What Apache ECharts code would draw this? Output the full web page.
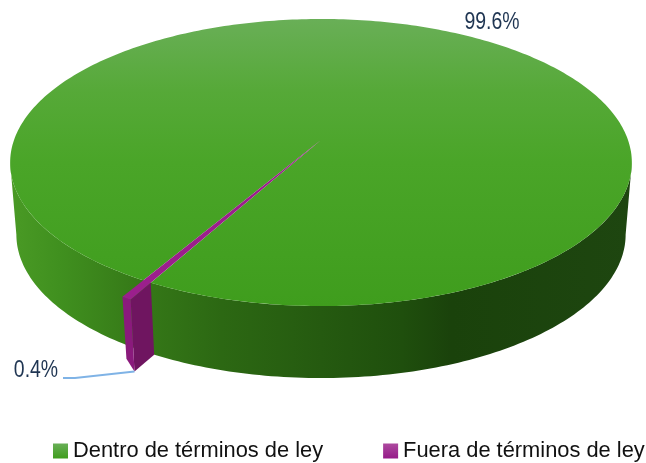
<!DOCTYPE html>
<html>
<head>
<meta charset="utf-8">
<style>
html,body{margin:0;padding:0;background:#fff}
#main{width:646px;height:463px}
</style>
<script src="https://cdn.jsdelivr.net/npm/echarts@6/dist/echarts.min.js"></script>
</head>
<body>
<div id="main"></div>
<script>
const categorias = ['Dentro de términos de ley', 'Fuera de términos de ley'];
const valores = [99.6, 0.4];
const etiquetas = ['99.6%', '0.4%'];

// pie geometry, a disc seen in perspective
const cx = 321, cy = 140, radioX = 307, radioY = 140, persp = 0.157;
const fondo = 72, escalaFondo = 0.98;
const anguloInicio = 120;     // first slice, clockwise from 3 o'clock
const salida = [1, 1.1];      // radius factor per slice

const total = valores.reduce((a, b) => a + b, 0);
const rad = g => g * Math.PI / 180;

function punto(g, r, abajo) {
    const u = r * Math.cos(rad(g)), v = r * Math.sin(rad(g));
    const d = 1 - persp * v;
    let x = cx + radioX * u / d, y = cy + radioY * v / d;
    if (abajo) {
        x = cx + (x - cx) * escalaFondo;
        y += fondo;
    }
    return [x, y];
}

function arco(g0, g1, r, abajo) {
    const pts = [], n = Math.max(2, Math.ceil(Math.abs(g1 - g0)));
    for (let i = 0; i <= n; i++) pts.push(punto(g0 + (g1 - g0) * i / n, r, abajo));
    return pts;
}

function degradado(x, y, x2, y2, stops) {
    return {
        type: 'linear', global: true, x: x, y: y, x2: x2, y2: y2,
        colorStops: stops.map(s => ({offset: s[0], color: s[1]}))
    };
}

const caraVerde = degradado(0, 19, 0, 307, [[0, '#69af57'], [0.25, '#56a938'], [0.5, '#4aa528'], [1, '#3f9d1d']]);
const paredVerde = degradado(10, 0, 632, 0, [
    [0, '#4a9a25'], [0.08, '#40901f'], [0.2, '#367a18'], [0.34, '#2c6813'],
    [0.5, '#255a10'], [0.63, '#1f4f0d'], [0.71, '#1a420b'], [1, '#1e4610']
]);

function poligono(pts, fill) {
    return {type: 'polygon', shape: {points: pts}, style: {fill: fill}, silent: true};
}

function texto(txt, x, y) {
    return {
        type: 'text', silent: true, x: x, y: y, scaleX: 0.81,
        style: {text: txt, x: 0, y: 0, fill: '#1f3552', font: '24px "Liberation Sans", sans-serif', align: 'center', verticalAlign: 'middle'}
    };
}

function dibujarDentro(g0, g1) {
    // outer wall only shows on the front half, between the two side extremes
    const pared = arco(9, 171, 1, false).concat(arco(171, 9, 1, true));
    const cara = [punto(0, 0, false)].concat(arco(g0, g1, 1, false));
    return [
        poligono(pared, paredVerde),
        poligono(cara, caraVerde),
        texto(etiquetas[0], 492, 22)
    ];
}

function dibujarFuera(g0, g1) {
    const r = salida[1];
    const borde = punto(g0, 1, false), bordeAbajo = punto(g0, 1, true);
    const a = punto(g0, r, false), aAbajo = punto(g0, r, true);
    const b = punto(g1, r, false), bAbajo = punto(g1, r, true);
    bAbajo[1] -= 10;
    return [
        poligono([borde, a, aAbajo, bordeAbajo], '#6f1560'),
        poligono([a, b, bAbajo, aAbajo], '#8a1a7c'),
        poligono([punto(0, 0, false)].concat(arco(g1, g0, r, false)), '#9b1f8c'),
        {type: 'polyline', silent: true, shape: {points: [[63, 378], [75, 378], aAbajo]}, style: {stroke: '#7fb3e6', lineWidth: 2, fill: null}},
        texto(etiquetas[1], 36, 370)
    ];
}

const dibujos = [dibujarDentro, dibujarFuera];
const coloresLeyenda = [['#69af57', '#3f9d1d'], ['#ad4a9f', '#951a88']];

let acumulado = 0;
const series = categorias.map((nombre, i) => {
    const g0 = anguloInicio + acumulado / total * 360;
    acumulado += valores[i];
    const g1 = anguloInicio + acumulado / total * 360;
    return {
        type: 'custom',
        name: nombre,
        coordinateSystem: 'none',
        silent: true,
        data: [valores[i]],
        itemStyle: {color: {type: 'linear', x: 0, y: 0, x2: 0, y2: 1, colorStops: [
            {offset: 0, color: coloresLeyenda[i][0]}, {offset: 1, color: coloresLeyenda[i][1]}
        ]}},
        renderItem: () => ({type: 'group', children: dibujos[i](g0, g1)})
    };
});

const chart = echarts.init(document.getElementById('main'));
chart.setOption({
    animation: false,
    backgroundColor: '#fff',
    legend: {
        data: categorias,
        left: 53,
        top: 440,
        width: 620,
        padding: 0,
        itemWidth: 15,
        itemHeight: 15,
        itemGap: 60,
        icon: 'rect',
        selectedMode: false,
        textStyle: {fontFamily: '"Liberation Sans", sans-serif', fontSize: 21.85, color: '#111'}
    },
    series: series
});
</script>
</body>
</html>
